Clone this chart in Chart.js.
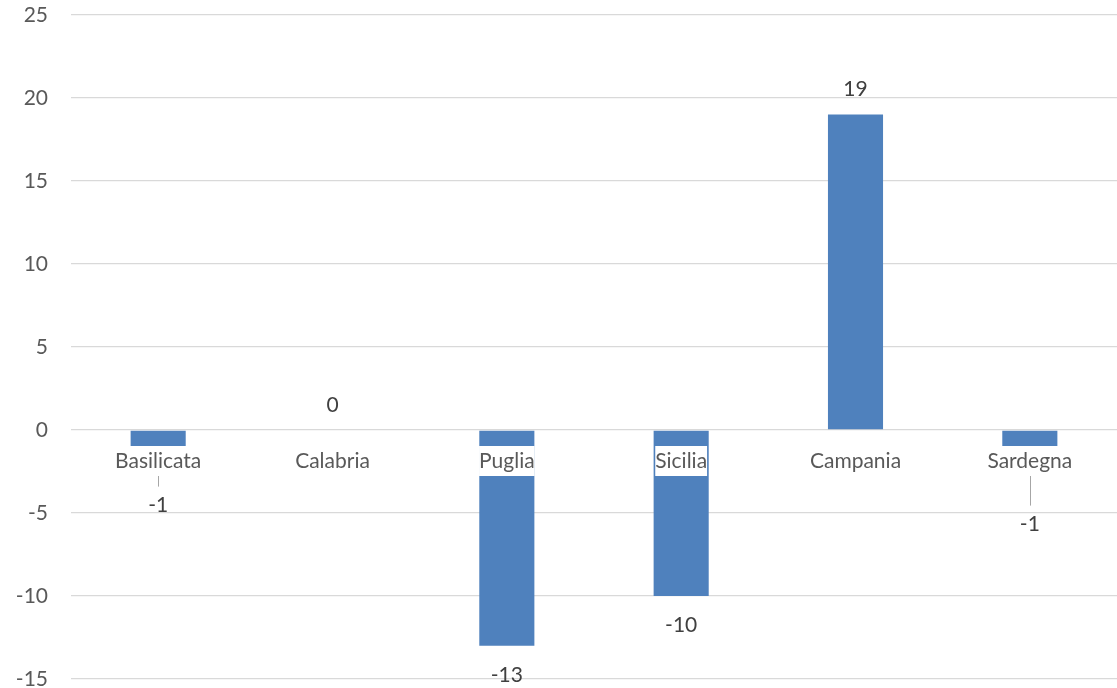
<!DOCTYPE html>
<html>
<head>
<meta charset="utf-8">
<script src="https://cdn.jsdelivr.net/npm/chart.js@4.4.1/dist/chart.umd.min.js"></script>
<style>
  html, body { margin: 0; padding: 0; background: #fff; }
  #wrap { width: 1117px; height: 688px; position: relative; }
</style>
</head>
<body>
<div id="wrap"><canvas id="chart"></canvas></div>
<script>
// Regions and their change
const regions = ['Basilicata', 'Calabria', 'Puglia', 'Sicilia', 'Campania', 'Sardegna'];
const changes = [-1, 0, -13, -10, 19, -1];

// Value axis range
const yMin = -15;
const yMax = 25;
const yStep = 5;

const FONT = 'Lato, "Open Sans", sans-serif';
const FONT_SIZE = 21;

// Category names sit on the zero line with a white box behind them,
// then value labels (two of them dragged lower, with a leader line)
const barLabels = {
    id: 'barLabels',
    afterDatasetsDraw(chart, args, opts) {
        const ctx = chart.ctx;
        const meta = chart.getDatasetMeta(0);
        const zeroY = chart.scales.y.getPixelForValue(0);
        ctx.save();

        // category labels
        ctx.font = FONT_SIZE + 'px ' + FONT;
        ctx.textAlign = 'center';
        ctx.textBaseline = 'middle';
        meta.data.forEach((bar, i) => {
            const text = regions[i];
            const w = ctx.measureText(text).width;
            const cy = zeroY + 31;
            ctx.fillStyle = '#ffffff';
            ctx.fillRect(bar.x - w / 2, cy - 15, w, 30);
            ctx.fillStyle = '#595959';
            ctx.fillText(text, bar.x, cy);
        });

        // value labels
        meta.data.forEach((bar, i) => {
            const v = changes[i];
            const nudge = opts.nudge[i] || 0;
            let cy = v < 0 ? bar.y + 29 : bar.y - 25;
            cy += nudge;
            if (nudge) {
                ctx.strokeStyle = '#a6a6a6';
                ctx.lineWidth = 1;
                ctx.beginPath();
                ctx.moveTo(Math.round(bar.x) + 0.5, zeroY + 46);
                ctx.lineTo(Math.round(bar.x) + 0.5, cy - 19);
                ctx.stroke();
            }
            ctx.fillStyle = '#404040';
            ctx.fillText(String(v), bar.x, cy);
        });
        ctx.restore();
    }
};

new Chart(document.getElementById('chart').getContext('2d'), {
    type: 'bar',
    data: {
        labels: regions,
        datasets: [{
            data: changes,
            backgroundColor: '#4f81bd',
            borderWidth: 0,
            categoryPercentage: 1,
            barPercentage: 0.316
        }]
    },
    options: {
        responsive: true,
        maintainAspectRatio: false,
        devicePixelRatio: 1,
        animation: false,
        layout: {
            padding: { top: 15, bottom: 9, left: 0, right: 0 }
        },
        plugins: {
            legend: { display: false },
            tooltip: { enabled: false },
            barLabels: { nudge: [30, 0, 0, 0, 0, 49] }
        },
        scales: {
            x: {
                display: false
            },
            y: {
                min: yMin,
                max: yMax,
                border: { display: false },
                grid: {
                    color: '#d9d9d9',
                    lineWidth: 1.3,
                    drawTicks: false
                },
                ticks: {
                    stepSize: yStep,
                    padding: 23,
                    color: '#595959',
                    font: { family: FONT, size: FONT_SIZE, lineHeight: 1 }
                },
                afterFit(scale) {
                    scale.width = 71;
                    scale.paddingTop = 0;
                    scale.paddingBottom = 0;
                }
            }
        }
    },
    plugins: [barLabels]
});
</script>
</body>
</html>
